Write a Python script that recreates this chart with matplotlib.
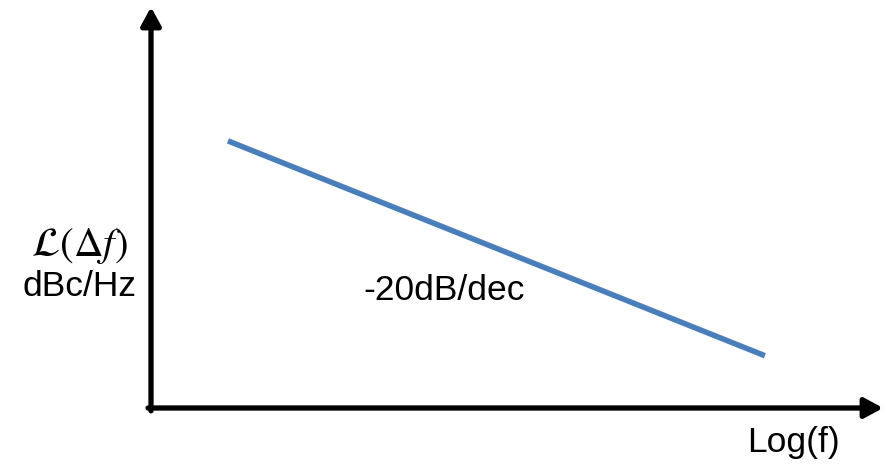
import numpy as np
import matplotlib
matplotlib.use("Agg")
import matplotlib.pyplot as plt

plt.rcParams['font.family'] = ['Liberation Sans', 'DejaVu Sans']
plt.rcParams['mathtext.fontset'] = 'stix'

# phase noise line, -20 dB per decade
freq = [1e3, 1e6]
noise_dbc = [-80, -140]
slope_label = "-20dB/dec"
x_label = "Log(f)"
y_label = ["$\\mathcal{L}(\\Delta f)$", "dBc/Hz"]

W, H = 883, 465
fig = plt.figure(figsize=(W / 100, H / 100), dpi=100)

# axes box in pixels: origin (151, 408), top 7, right 883
x0, y0, x1, y1 = 151, 408, 883, 7
ax = fig.add_axes([x0 / W, 1 - y0 / H, (x1 - x0) / W, (y0 - y1) / H])
ax.set_xscale('log')
ax.set_xlim(10**2.57, 10**6.66)
ax.set_ylim(-154.6, -42.6)
ax.axis('off')

ax.plot(freq, noise_dbc, color='#4a7ebb', lw=4, solid_capstyle='butt')

arrow = dict(arrowstyle='-|>,head_length=0.55,head_width=0.3', lw=3.8, color='black',
             shrinkA=0, shrinkB=0, mutation_scale=20)
ax.annotate('', xy=(1, 0), xytext=(-0.004, 0), xycoords='axes fraction',
            arrowprops=arrow, annotation_clip=False)
ax.annotate('', xy=(0, 1), xytext=(0, -0.007), xycoords='axes fraction',
            arrowprops=arrow, annotation_clip=False)

fs = 25.5
fig.text(444 / W, 1 - 290 / H, slope_label, fontsize=fs, ha='center', va='center')
fig.text(793 / W, 1 - 442 / H, x_label, fontsize=fs, ha='center', va='center')
fig.text(79 / W, 1 - 246 / H, y_label[0], fontsize=fs + 4, ha='center', va='center')
fig.text(80 / W, 1 - 287 / H, y_label[1], fontsize=fs, ha='center', va='center')

fig.savefig('out.png', dpi=100)
